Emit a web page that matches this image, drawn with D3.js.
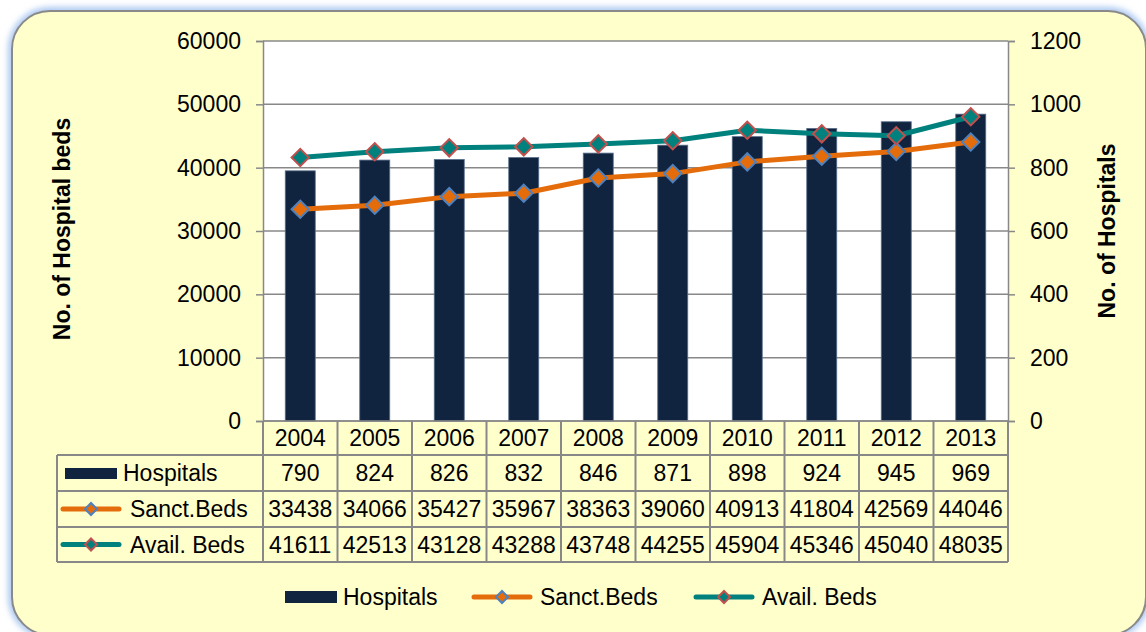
<!DOCTYPE html>
<html>
<head>
<meta charset="utf-8">
<script src="https://cdn.jsdelivr.net/npm/d3@7"></script>
<style>
  body { margin: 0; background: #fff; }
  svg { display: block; font-family: "Liberation Sans", Arial, sans-serif; }
</style>
</head>
<body>
<div id="chart"></div>
<script>
const years = ["2004", "2005", "2006", "2007", "2008", "2009", "2010", "2011", "2012", "2013"];
const hospitals = [790, 824, 826, 832, 846, 871, 898, 924, 945, 969];
const sanctBeds = [33438, 34066, 35427, 35967, 38363, 39060, 40913, 41804, 42569, 44046];
const availBeds = [41611, 42513, 43128, 43288, 43748, 44255, 45904, 45346, 45040, 48035];
const leftTicks = [0, 10000, 20000, 30000, 40000, 50000, 60000];
const rightTicks = [0, 200, 400, 600, 800, 1000, 1200];

const W = 1146, H = 632;
const plot = { left: 263, right: 1008, top: 41, bottom: 421 };
const rowH = [34, 36, 36, 35];
const labelLeft = 57;

const colors = { bar: "#11243f", sanct: "#e46c0a", avail: "#00817e", sanctEdge: "#4f81bd", availEdge: "#c0504d", grid: "#888" };

const svg = d3.select("#chart").append("svg")
  .attr("width", W)
  .attr("height", H);

// glow + frame
const defs = svg.append("defs");
const f = defs.append("filter").attr("id", "glow").attr("x", "-5%").attr("y", "-5%").attr("width", "110%").attr("height", "110%");
f.append("feGaussianBlur").attr("stdDeviation", 3);

svg.append("rect")
  .attr("x", 12).attr("y", 11).attr("width", 1134).attr("height", 624).attr("rx", 38)
  .attr("fill", "none").attr("stroke", "#9fc0ef").attr("stroke-width", 7)
  .attr("filter", "url(#glow)");
svg.append("rect")
  .attr("x", 12).attr("y", 11).attr("width", 1134).attr("height", 624).attr("rx", 38)
  .attr("fill", "#ffffcc").attr("stroke", "#8a8a8a").attr("stroke-width", 2);

// scales
const x = d3.scaleBand().domain(years).range([plot.left, plot.right]).paddingInner(0).paddingOuter(0);
const yL = d3.scaleLinear().domain([0, 60000]).range([plot.bottom, plot.top]);
const yR = d3.scaleLinear().domain([0, 1200]).range([plot.bottom, plot.top]);

svg.append("rect")
  .attr("x", plot.left).attr("y", plot.top)
  .attr("width", plot.right - plot.left).attr("height", plot.bottom - plot.top)
  .attr("fill", "#fff");

// gridlines
svg.append("g")
  .selectAll("line")
  .data(leftTicks)
  .join("line")
  .attr("x1", plot.left).attr("x2", plot.right)
  .attr("y1", d => yL(d)).attr("y2", d => yL(d))
  .attr("stroke", colors.grid).attr("stroke-width", 1.5);

// axes
const axL = svg.append("g")
  .attr("transform", `translate(${plot.left},0)`)
  .call(d3.axisLeft(yL).tickValues(leftTicks).tickSize(7).tickPadding(15).tickFormat(d3.format("d")));
const axR = svg.append("g")
  .attr("transform", `translate(${plot.right},0)`)
  .call(d3.axisRight(yR).tickValues(rightTicks).tickSize(7).tickPadding(15).tickFormat(d3.format("d")));
[axL, axR].forEach(a => {
  a.select(".domain").attr("stroke", colors.grid).attr("stroke-width", 1.5);
  a.selectAll(".tick line").attr("stroke", colors.grid).attr("stroke-width", 1.5);
  a.selectAll(".tick text").attr("fill", "#000").style("font-size", "23px")
    .style("font-family", "Liberation Sans, Arial, sans-serif");
});

// bars (right axis)
const barW = 30;
svg.append("g")
  .selectAll("rect")
  .data(hospitals)
  .join("rect")
  .attr("x", (d, i) => x(years[i]) + x.bandwidth() / 2 - barW / 2)
  .attr("y", d => yR(d))
  .attr("width", barW)
  .attr("height", d => yR(0) - yR(d))
  .attr("fill", colors.bar)
  .attr("stroke", "#5a6f8c").attr("stroke-width", 0.8);

// lines (left axis)
const diamond = d3.symbol().type(d3.symbolSquare);
function drawSeries(values, stroke, edge) {
  const line = d3.line()
    .x((d, i) => x(years[i]) + x.bandwidth() / 2)
    .y(d => yL(d));
  svg.append("path")
    .datum(values)
    .attr("d", line)
    .attr("fill", "none")
    .attr("stroke", stroke)
    .attr("stroke-width", 5)
    .attr("stroke-linejoin", "round");
  svg.append("g")
    .selectAll("path")
    .data(values)
    .join("path")
    .attr("d", diamond.size(150)())
    .attr("transform", (d, i) => `translate(${x(years[i]) + x.bandwidth() / 2},${yL(d)}) rotate(45)`)
    .attr("fill", stroke)
    .attr("stroke", edge)
    .attr("stroke-width", 2);
}
drawSeries(sanctBeds, colors.sanct, colors.sanctEdge);
drawSeries(availBeds, colors.avail, colors.availEdge);

// data table
const rowTops = [plot.bottom];
rowH.forEach(h => rowTops.push(rowTops[rowTops.length - 1] + h));
const table = svg.append("g");
const gridAttr = s => s.attr("stroke", colors.grid).attr("stroke-width", 2).attr("fill", "none");

// horizontal lines
table.selectAll("line.h")
  .data(rowTops.slice(1))
  .join("line")
  .attr("x1", labelLeft).attr("x2", plot.right)
  .attr("y1", d => d).attr("y2", d => d)
  .call(gridAttr);
// verticals
const colEdges = years.map(y => x(y)).concat([plot.right]);
table.selectAll("line.v")
  .data(colEdges)
  .join("line")
  .attr("x1", d => d).attr("x2", d => d)
  .attr("y1", plot.bottom).attr("y2", rowTops[4])
  .call(gridAttr);
table.append("line")
  .attr("x1", labelLeft).attr("x2", labelLeft)
  .attr("y1", rowTops[1]).attr("y2", rowTops[4]).call(gridAttr);
// axis line on top of table
table.append("line")
  .attr("x1", plot.left).attr("x2", plot.right)
  .attr("y1", plot.bottom).attr("y2", plot.bottom)
  .attr("stroke", colors.grid).attr("stroke-width", 1.5);

const rows = [years, hospitals, sanctBeds, availBeds];
rows.forEach((vals, r) => {
  table.append("g")
    .selectAll("text")
    .data(vals)
    .join("text")
    .attr("x", (d, i) => x(years[i]) + x.bandwidth() / 2)
    .attr("y", (rowTops[r] + rowTops[r + 1]) / 2 + 8)
    .attr("text-anchor", "middle")
    .style("font-size", "23px")
    .text(d => d);
});

// row labels with keys
function keyLine(g, cx, cy, len, stroke, edge, size) {
  g.append("line")
    .attr("x1", cx - len / 2).attr("x2", cx + len / 2)
    .attr("y1", cy).attr("y2", cy)
    .attr("stroke", stroke).attr("stroke-width", 5).attr("stroke-linecap", "round");
  g.append("path")
    .attr("d", diamond.size(size)())
    .attr("transform", `translate(${cx},${cy}) rotate(45)`)
    .attr("fill", stroke).attr("stroke", edge).attr("stroke-width", 2);
}
const rowMid = r => (rowTops[r] + rowTops[r + 1]) / 2;
table.append("rect")
  .attr("x", 65).attr("y", rowMid(1) - 5).attr("width", 52).attr("height", 11)
  .attr("fill", colors.bar);
table.append("text").attr("x", 123).attr("y", rowMid(1) + 8).style("font-size", "23px").text("Hospitals");
keyLine(table, 91, rowMid(2), 56, colors.sanct, colors.sanctEdge, 72);
table.append("text").attr("x", 130).attr("y", rowMid(2) + 8).style("font-size", "23px").text("Sanct.Beds");
keyLine(table, 91, rowMid(3), 56, colors.avail, colors.availEdge, 72);
table.append("text").attr("x", 130).attr("y", rowMid(3) + 8).style("font-size", "23px").text("Avail. Beds");

// bottom legend
const legY = 597;
const leg = svg.append("g");
leg.append("rect").attr("x", 285).attr("y", legY - 6).attr("width", 52).attr("height", 12).attr("fill", colors.bar);
leg.append("text").attr("x", 343).attr("y", legY + 8).style("font-size", "23px").text("Hospitals");
keyLine(leg, 502, legY, 56, colors.sanct, colors.sanctEdge, 72);
leg.append("text").attr("x", 540).attr("y", legY + 8).style("font-size", "23px").text("Sanct.Beds");
keyLine(leg, 724, legY, 56, colors.avail, colors.availEdge, 72);
leg.append("text").attr("x", 762).attr("y", legY + 8).style("font-size", "23px").text("Avail. Beds");

// axis titles
svg.append("text")
  .attr("transform", `translate(70,${(plot.top + plot.bottom) / 2 - 2}) rotate(-90)`)
  .attr("text-anchor", "middle")
  .style("font-size", "23px").style("font-weight", "bold")
  .text("No. of Hospital beds");
svg.append("text")
  .attr("transform", `translate(1115,${(plot.top + plot.bottom) / 2}) rotate(-90)`)
  .attr("text-anchor", "middle")
  .style("font-size", "23px").style("font-weight", "bold")
  .text("No. of Hospitals");
</script>
</body>
</html>
